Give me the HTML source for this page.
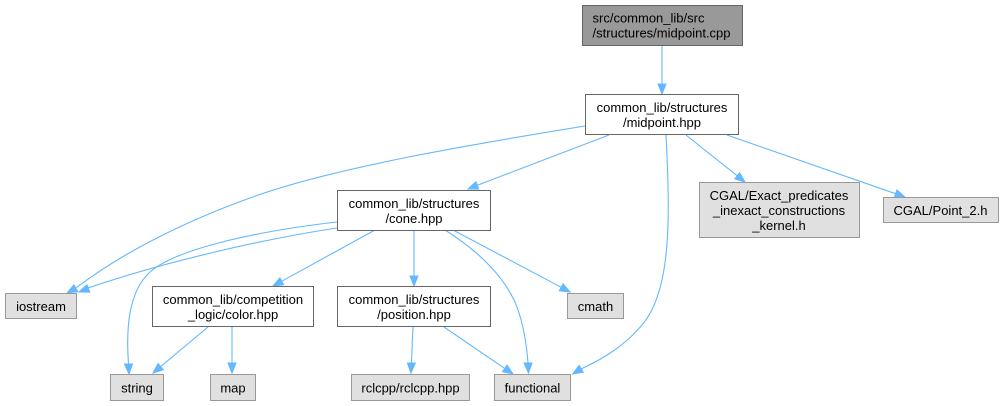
<!DOCTYPE html>
<html><head><meta charset="utf-8"><style>
html,body{margin:0;padding:0;background:#fff;}
svg{display:block;}
text{font-family:"Liberation Sans",Arial,sans-serif;font-size:13px;fill:#000;}
.w{fill:#fff;stroke:#666;stroke-width:1;}
.g{fill:#e0e0e0;stroke:#999;stroke-width:1;}
.e{fill:none;stroke:#63b8ff;stroke-width:1.1;}
.a{fill:#63b8ff;stroke:#63b8ff;stroke-width:1;}
</style></head><body>
<svg width="1004" height="406" viewBox="0 0 1004 406" xmlns="http://www.w3.org/2000/svg">
<!-- edges -->
<path class="e" d="M662,46 L662,84"/>
<polygon class="a" points="658,84 666,84 662,94"/>

<path class="e" d="M585,126 C480,143 330,168 250,198 C175,225 115,258 76,288"/>
<polygon class="a" points="77.7,291.7 73.9,284.7 67,293"/>

<path class="e" d="M609,135 L477,185.4"/>
<polygon class="a" points="478.7,189.1 475.9,181.7 468,189"/>

<path class="e" d="M666,135 C670,215 672,290 642,325 C625,345 605,358 581,369"/>
<polygon class="a" points="583.3,372.1 579.1,365.3 572.7,374"/>

<path class="e" d="M686,135 L737.2,175.8"/>
<polygon class="a" points="734.7,178.9 739.7,172.7 745,182"/>

<path class="e" d="M727,135 L895.6,193.7"/>
<polygon class="a" points="894.3,197.5 896.9,189.9 905,197"/>

<path class="e" d="M337,228 C270,238 170,260 88,288"/>
<polygon class="a" points="89.8,292.1 86.9,284.7 79,292"/>

<path class="e" d="M337,222 C250,232 175,250 150,272 C128,292 126,330 128.5,364"/>
<polygon class="a" points="124.5,364 132.5,364 129,374"/>

<path class="e" d="M375,230 L281.8,281.2"/>
<polygon class="a" points="283.7,284.7 279.9,277.7 273,286"/>

<path class="e" d="M414,230 L414,276"/>
<polygon class="a" points="410,276 418,276 414,286"/>

<path class="e" d="M445,230 C480,252 508,280 518,310 C525,330 527,350 528,363"/>
<polygon class="a" points="524,363 532,363 528.5,373"/>

<path class="e" d="M453,230 L561.2,287.3"/>
<polygon class="a" points="559.3,290.8 563.1,283.8 570,292"/>

<path class="e" d="M208,327 L160.7,366.6"/>
<polygon class="a" points="163.3,369.7 158.1,363.5 153,373"/>

<path class="e" d="M232,327 L232,363"/>
<polygon class="a" points="228,363 236,363 232,373"/>

<path class="e" d="M413,327 L411.4,363"/>
<polygon class="a" points="407.4,363 415.4,363 411,373"/>

<path class="e" d="M444,327 L504.7,368.4"/>
<polygon class="a" points="502.5,371.7 507,365.1 513,374"/>

<!-- nodes -->
<rect x="582.5" y="5.5" width="160" height="40" fill="#999999" stroke="#666" stroke-width="1"/>
<text x="592.5" y="22.5">src/common_lib/src</text>
<text x="592.5" y="37.5">/structures/midpoint.cpp</text>

<rect class="w" x="585.5" y="94.5" width="153" height="40"/>
<text x="662" y="112" text-anchor="middle">common_lib/structures</text>
<text x="662" y="127" text-anchor="middle">/midpoint.hpp</text>

<rect class="w" x="337.5" y="190.5" width="153" height="40"/>
<text x="414" y="208" text-anchor="middle">common_lib/structures</text>
<text x="414" y="223" text-anchor="middle">/cone.hpp</text>

<rect class="g" x="699.5" y="182.5" width="160" height="55"/>
<text x="779" y="200" text-anchor="middle">CGAL/Exact_predicates</text>
<text x="779" y="215" text-anchor="middle">_inexact_constructions</text>
<text x="779" y="230" text-anchor="middle">_kernel.h</text>

<rect class="g" x="883.5" y="197.5" width="115" height="25"/>
<text x="940.5" y="215" text-anchor="middle">CGAL/Point_2.h</text>

<rect class="g" x="5.5" y="293.5" width="71" height="25"/>
<text x="41" y="311" text-anchor="middle">iostream</text>

<rect class="w" x="152.5" y="286.5" width="161" height="40"/>
<text x="233" y="304" text-anchor="middle">common_lib/competition</text>
<text x="233" y="319" text-anchor="middle">_logic/color.hpp</text>

<rect class="w" x="337.5" y="286.5" width="153" height="40"/>
<text x="414" y="304" text-anchor="middle">common_lib/structures</text>
<text x="414" y="319" text-anchor="middle">/position.hpp</text>

<rect class="g" x="567.5" y="293.5" width="56" height="25"/>
<text x="595.5" y="311" text-anchor="middle">cmath</text>

<rect class="g" x="110.5" y="374.5" width="53" height="26"/>
<text x="137" y="392.5" text-anchor="middle">string</text>

<rect class="g" x="210.5" y="374.5" width="45" height="26"/>
<text x="233" y="392.5" text-anchor="middle">map</text>

<rect class="g" x="351.5" y="374.5" width="118" height="26"/>
<text x="410.5" y="392.5" text-anchor="middle">rclcpp/rclcpp.hpp</text>

<rect class="g" x="494.5" y="374.5" width="76" height="26"/>
<text x="532.5" y="392.5" text-anchor="middle">functional</text>
</svg>
</body></html>
